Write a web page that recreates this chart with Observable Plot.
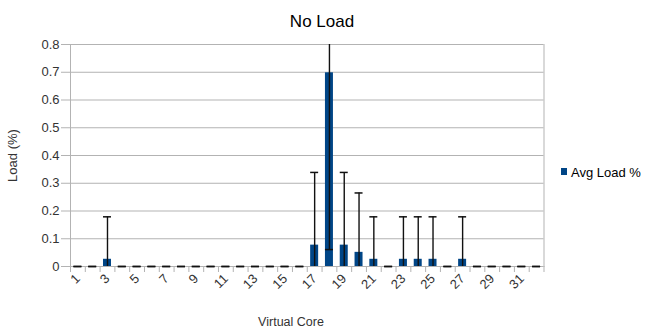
<!DOCTYPE html>
<html>
<head>
<meta charset="utf-8">
<script src="https://cdn.jsdelivr.net/npm/d3@7"></script>
<script src="https://cdn.jsdelivr.net/npm/@observablehq/plot@0.6"></script>
<style>
  html, body { margin: 0; padding: 0; background: #fff; }
  #chart { position: relative; width: 648px; height: 329px; }
</style>
</head>
<body>
<div id="chart"></div>
<script>
const title = "No Load";
const seriesName = "Avg Load %";
const xTitle = "Virtual Core";
const yTitle = "Load (%)";
const cores = [1,2,3,4,5,6,7,8,9,10,11,12,13,14,15,16,17,18,19,20,21,22,23,24,25,26,27,28,29,30,31,32];
const avgLoad = [0,0,0.026,0,0,0,0,0,0,0,0,0,0,0,0,0,0.077,0.698,0.077,0.051,0.026,0,0.026,0.026,0.026,0,0.026,0,0,0,0,0];
const loadErr = [0,0,0.153,0,0,0,0,0,0,0,0,0,0,0,0,0,0.262,0.637,0.262,0.214,0.153,0,0.153,0.153,0.153,0,0.153,0,0,0,0,0];
const xTickLabels = [1,3,5,7,9,11,13,15,17,19,21,23,25,27,29,31];
const yTicks = [0,0.1,0.2,0.3,0.4,0.5,0.6,0.7,0.8];

const data = cores.map((c, i) => ({core: c, load: avgLoad[i], err: loadErr[i], lo: avgLoad[i] - loadErr[i], hi: avgLoad[i] + loadErr[i]}));
const boundaries = [cores[0] - 0.5, ...cores.map(c => c + 0.5)];
const caps = data.flatMap(d => [{core: d.core, v: d.lo}, {core: d.core, v: d.hi}]).filter(c => c.v >= 0 && c.v <= 0.8);
const halfBar = 0.27;
const blue = "#004586";
const grid = "#b3b3b3";

const chart = Plot.plot({
  width: 648,
  height: 329,
  marginLeft: 70,
  marginRight: 104.5,
  marginTop: 44,
  marginBottom: 63,
  x: {domain: [0.5, 32.5]},
  y: {domain: [0, 0.8]},
  style: {fontFamily: "'Liberation Sans', Arial, sans-serif", fontSize: "13px", color: "#333", background: "#fff"},
  marks: [
    Plot.gridY({ticks: yTicks, stroke: grid, strokeOpacity: 1}),
    Plot.frame({anchor: "left", stroke: grid, strokeOpacity: 1}),
    Plot.frame({anchor: "right", stroke: grid, strokeOpacity: 1}),
    Plot.axisY({ticks: yTicks, tickSize: 9, tickPadding: 2, stroke: grid, strokeOpacity: 1,
      tickFormat: d => d === 0 ? "0" : d3.format(".1f")(d),
      label: yTitle, labelAnchor: "center", labelOffset: 63, labelArrow: "none"}),
    Plot.axisX({ticks: boundaries, tickSize: 6, stroke: grid, strokeOpacity: 1, tickFormat: () => "", label: null}),
    Plot.axisX({ticks: xTickLabels, tickSize: 0, tickPadding: 10, tickRotate: -45, tickFormat: d => String(d), label: null}),
    Plot.rectY(data, {x1: d => d.core - halfBar, x2: d => d.core + halfBar, y1: 0, y2: "load", fill: blue}),
    Plot.ruleX(data.filter(d => d.err > 0), {x: "core", y1: "lo", y2: "hi", stroke: "#111", strokeWidth: 1.4, clip: true}),
    Plot.ruleY(caps, {y: "v", x1: d => d.core - halfBar, x2: d => d.core + halfBar, stroke: "#111", strokeWidth: 1.5})
  ]
});

const svg = d3.select(chart);
svg.append("text").attr("x", 322).attr("y", 27).attr("text-anchor", "middle")
  .attr("font-size", 17).attr("fill", "#000").text(title);
svg.append("text").attr("x", 291).attr("y", 326).attr("text-anchor", "middle")
  .attr("font-size", 12.5).attr("fill", "#333").text(xTitle);
svg.append("rect").attr("x", 561).attr("y", 168).attr("width", 6).attr("height", 7).attr("fill", blue);
svg.append("text").attr("x", 571).attr("y", 177).attr("text-anchor", "start")
  .attr("font-size", 13).attr("fill", "#000").text(seriesName);

document.getElementById("chart").appendChild(chart);
</script>
</body>
</html>
